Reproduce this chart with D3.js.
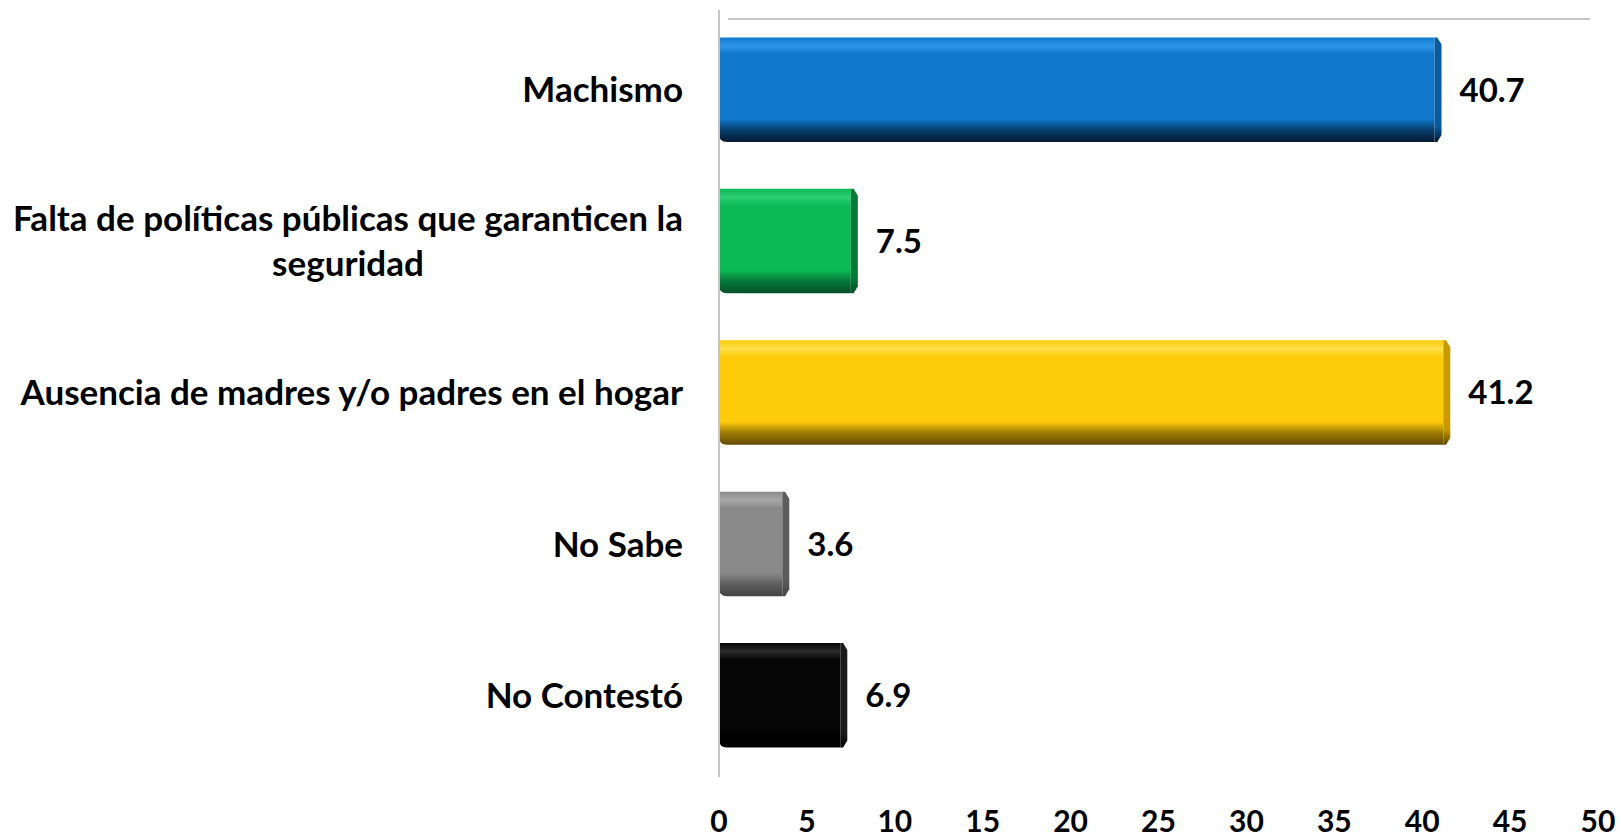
<!DOCTYPE html>
<html lang="es">
<head>
<meta charset="UTF-8">
<title>d3.js</title>
<script src="https://cdn.jsdelivr.net/npm/d3@7"></script>
<style>
  body { margin: 0; background: #ffffff; }
  text { font-family: Lato, "Open Sans", sans-serif; font-weight: bold; fill: #000; }
</style>
</head>
<body>
<div id="output"></div>

<script>

// data
var categories = ["Machismo", "Falta de políticas públicas que garanticen la\nseguridad", "Ausencia de madres y/o padres en el hogar", "No Sabe", "No Contestó"];
var values = [40.7, 7.5, 41.2, 3.6, 6.9];
var tickValues = [0, 5, 10, 15, 20, 25, 30, 35, 40, 45, 50];

// colours per bar: [front top, front body, front bottom, side]
var palettes = [
    ["#2f96ea", "#0f78cd", "#041a33", "#0a5aa0"],
    ["#2ccf72", "#0bb955", "#03502a", "#077a38"],
    ["#ffe04a", "#fecb0b", "#634a00", "#c79a00"],
    ["#a8a8a8", "#898989", "#444444", "#5c5c5c"],
    ["#2a2a2a", "#060606", "#000000", "#1a1a1a"]
];

var w = 1621;
var h = 839;

var svg = d3.select("#output")
    .append("svg")
    .attr("width", w)
    .attr("height", h);

var x = d3.scaleLinear()
    .domain([0, 50])
    .range([719, 1598]);

var y = d3.scaleBand()
    .domain(categories)
    .range([14, 771])
    .paddingInner(0.31)
    .paddingOuter(0.155);

var side = 7;

// gradients
var defs = svg.append("defs");
palettes.forEach(function(p, i) {
    var g = defs.append("linearGradient")
        .attr("id", "front" + i)
        .attr("x1", 0).attr("y1", 0).attr("x2", 0).attr("y2", 1);
    g.append("stop").attr("offset", "0%").attr("stop-color", p[1]);
    g.append("stop").attr("offset", "8%").attr("stop-color", p[0]);
    g.append("stop").attr("offset", "16%").attr("stop-color", p[1]);
    g.append("stop").attr("offset", "78%").attr("stop-color", p[1]);
    g.append("stop").attr("offset", "88%").attr("stop-color", d3.interpolateRgb(p[1], p[2])(0.6));
    g.append("stop").attr("offset", "100%").attr("stop-color", p[2]);

    var s = defs.append("linearGradient")
        .attr("id", "side" + i)
        .attr("x1", 0).attr("y1", 0).attr("x2", 0).attr("y2", 1);
    s.append("stop").attr("offset", "0%").attr("stop-color", p[3]);
    s.append("stop").attr("offset", "85%").attr("stop-color", p[3]);
    s.append("stop").attr("offset", "100%").attr("stop-color", p[2]);
});

// top line of the plot floor
svg.append("line")
    .attr("x1", 728).attr("x2", 1590)
    .attr("y1", 19).attr("y2", 19)
    .attr("stroke", "#c6c6c6")
    .attr("stroke-width", 2);

var bars = svg.selectAll("g.bar")
    .data(values)
    .enter()
    .append("g")
    .attr("class", "bar");

// front face, rounded bottom-left corner
bars.append("path")
    .attr("d", function(d, i) {
        var x0 = x(0), x1 = x(d);
        var y0 = y(categories[i]), y1 = y0 + y.bandwidth();
        var r = 8;
        return "M" + x0 + "," + y0 + "L" + x1 + "," + y0 + "L" + x1 + "," + y1 +
            "L" + (x0 + r) + "," + y1 + "Q" + x0 + "," + y1 + " " + x0 + "," + (y1 - r) + "Z";
    })
    .attr("fill", function(d, i) { return "url(#front" + i + ")"; });

// right side face with bevelled corners
bars.append("path")
    .attr("d", function(d, i) {
        var x1 = x(d);
        var y0 = y(categories[i]), y1 = y0 + y.bandwidth();
        return "M" + x1 + "," + y0 + "L" + (x1 + side * 0.4) + "," + y0 +
            "L" + (x1 + side) + "," + (y0 + side) + "L" + (x1 + side) + "," + (y1 - side) +
            "L" + (x1 + side * 0.4) + "," + y1 + "L" + x1 + "," + y1 + "Z";
    })
    .attr("fill", function(d, i) { return "url(#side" + i + ")"; });

// value labels
bars.append("text")
    .attr("x", function(d) { return x(d) + side + 18; })
    .attr("y", function(d, i) { return y(categories[i]) + y.bandwidth() / 2; })
    .attr("dy", "0.36em")
    .style("font-size", "33px")
    .text(function(d) { return d.toFixed(1); });

// vertical axis line
svg.append("line")
    .attr("x1", x(0)).attr("x2", x(0))
    .attr("y1", 10).attr("y2", 777)
    .attr("stroke", "#c6c6c6")
    .attr("stroke-width", 2);

// category labels
var labels = svg.selectAll("text.cat")
    .data(categories)
    .enter()
    .append("text")
    .attr("class", "cat")
    .attr("text-anchor", "middle")
    .style("font-size", "35px")
    .each(function(d) {
        var lines = d.split("\n");
        var t = d3.select(this);
        var cy = y(d) + y.bandwidth() / 2;
        var lh = 45;
        lines.forEach(function(line, k) {
            t.append("tspan")
                .attr("x", 0)
                .attr("y", cy + (k - (lines.length - 1) / 2) * lh)
                .attr("dy", "0.36em")
                .text(line);
        });
    });

// right-align the block but centre wrapped lines like the original
labels.each(function() {
    var t = d3.select(this);
    var wmax = 0;
    t.selectAll("tspan").each(function() { wmax = Math.max(wmax, this.getComputedTextLength()); });
    t.selectAll("tspan").attr("x", 683 - wmax / 2);
});

// x axis tick labels
svg.selectAll("text.tick")
    .data(tickValues)
    .enter()
    .append("text")
    .attr("class", "tick")
    .attr("x", function(d) { return x(d); })
    .attr("y", 832)
    .attr("text-anchor", "middle")
    .style("font-size", "30px")
    .text(function(d) { return d; });

</script>
</body>
</html>
